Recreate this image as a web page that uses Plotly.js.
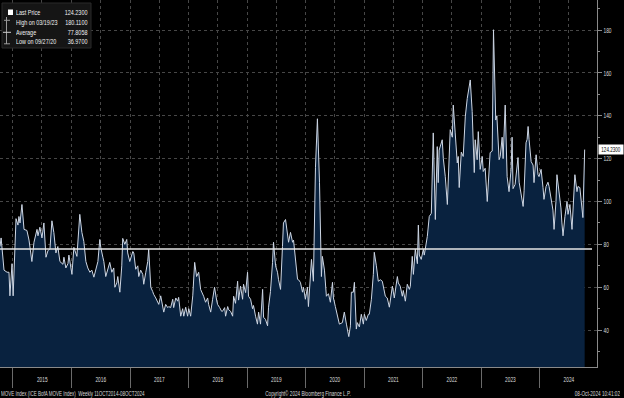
<!DOCTYPE html>
<html>
<head>
<meta charset="utf-8">
<script src="https://cdn.plot.ly/plotly-3.0.1.min.js"></script>
<style>html,body{margin:0;padding:0;background:#000;}#chart{width:624px;height:398px;}</style>
</head>
<body>
<div id="chart"></div>
<script>
// MOVE Index weekly values
const dates = [
"2014-10-12","2014-10-19","2014-11-06","2014-11-25","2014-12-07","2014-12-13","2014-12-26",
"2015-01-02","2015-01-20","2015-02-01","2015-02-07","2015-02-14","2015-02-26","2015-03-11","2015-03-29","2015-04-11","2015-04-29","2015-05-12","2015-05-31","2015-06-06","2015-06-18","2015-07-01","2015-07-13","2015-07-26","2015-08-07","2015-08-20","2015-09-01","2015-09-13","2015-09-26","2015-10-08","2015-10-21","2015-11-09","2015-11-15","2015-11-27","2015-12-10","2015-12-16",
"2016-01-04","2016-01-16","2016-02-04","2016-02-22","2016-03-06","2016-03-18","2016-03-31","2016-04-12","2016-04-25","2016-05-07","2016-05-20","2016-06-01","2016-06-14","2016-06-26","2016-07-02","2016-07-15","2016-07-21","2016-08-02","2016-08-15","2016-08-27","2016-09-09","2016-09-21","2016-09-28","2016-10-10","2016-10-16","2016-10-29","2016-11-10","2016-11-16","2016-11-29","2016-12-11","2016-12-17","2016-12-30",
"2017-01-18","2017-01-24","2017-02-05","2017-02-18","2017-02-24","2017-03-08","2017-03-21","2017-03-27","2017-04-09","2017-04-21","2017-04-27","2017-05-10","2017-05-22","2017-05-28","2017-06-10","2017-06-22","2017-06-29","2017-07-11","2017-07-24","2017-07-30","2017-08-11","2017-08-24","2017-08-30","2017-09-11","2017-09-24","2017-09-30","2017-10-13","2017-10-25","2017-10-31","2017-11-13","2017-11-25","2017-12-02","2017-12-14","2017-12-26",
"2018-01-02","2018-01-14","2018-01-27","2018-02-08","2018-02-20","2018-03-05","2018-03-17","2018-03-30","2018-04-05","2018-04-17","2018-04-30","2018-05-06","2018-05-19","2018-05-31","2018-06-12","2018-06-25","2018-07-01","2018-07-14","2018-07-26","2018-08-01","2018-08-14","2018-08-20","2018-09-02","2018-09-08","2018-09-20","2018-10-03","2018-10-09","2018-10-21","2018-11-03","2018-11-09","2018-11-21","2018-12-04","2018-12-10","2018-12-23",
"2019-01-04","2019-01-10","2019-01-23","2019-02-04","2019-02-10","2019-02-23","2019-03-07","2019-03-14","2019-03-26","2019-04-08","2019-04-14","2019-04-26","2019-05-09","2019-05-15","2019-05-27","2019-06-09","2019-06-15","2019-06-28","2019-07-10","2019-07-16","2019-07-29","2019-08-10","2019-08-16","2019-08-29","2019-09-10","2019-09-17","2019-09-29","2019-10-12","2019-10-18","2019-10-30","2019-11-12","2019-11-18","2019-11-30","2019-12-13","2019-12-19","2019-12-31",
"2020-01-13","2020-01-19","2020-02-07","2020-02-19","2020-03-03","2020-03-15","2020-03-28","2020-04-09","2020-04-15","2020-04-28","2020-05-10","2020-05-23","2020-06-04","2020-06-17","2020-06-23","2020-07-05","2020-07-18","2020-07-30","2020-08-18","2020-08-30","2020-09-12","2020-09-27","2020-10-07","2020-10-13","2020-10-25","2020-11-01","2020-11-13","2020-11-19","2020-12-02","2020-12-14","2020-12-27",
"2021-01-02","2021-01-14","2021-01-27","2021-02-02","2021-02-15","2021-02-27","2021-03-05","2021-03-18","2021-03-30","2021-04-12","2021-04-24","2021-05-13","2021-05-25","2021-06-07","2021-06-26","2021-07-08","2021-07-27","2021-08-02","2021-08-14","2021-08-27","2021-09-02","2021-09-15","2021-09-27","2021-10-10","2021-10-16","2021-10-28","2021-11-04","2021-11-16","2021-11-29","2021-12-05","2021-12-11","2021-12-23",
"2022-01-05","2022-01-11","2022-01-30","2022-02-11","2022-02-24","2022-03-08","2022-03-21","2022-04-02","2022-04-08","2022-04-14","2022-05-03","2022-05-10","2022-05-22","2022-06-04","2022-06-22","2022-07-05","2022-07-11","2022-07-23","2022-08-05","2022-08-11","2022-08-17","2022-08-30","2022-09-11","2022-09-24","2022-10-06","2022-10-25","2022-11-06","2022-11-19","2022-11-25","2022-12-07","2022-12-14","2022-12-26",
"2023-01-08","2023-01-14","2023-01-26","2023-02-08","2023-02-14","2023-02-26","2023-03-11","2023-03-19","2023-04-02","2023-04-09","2023-04-23","2023-04-30","2023-05-12","2023-05-18","2023-05-31","2023-06-12","2023-06-24","2023-07-07","2023-07-13","2023-07-19","2023-08-01","2023-08-07","2023-08-19","2023-08-26","2023-09-07","2023-09-20","2023-09-26","2023-10-08","2023-10-15","2023-10-21","2023-10-27","2023-11-09","2023-11-21","2023-11-27","2023-12-10","2023-12-22","2023-12-28",
"2024-01-10","2024-01-22","2024-01-28","2024-02-10","2024-02-22","2024-02-29","2024-03-12","2024-03-24","2024-03-31","2024-04-12","2024-04-18","2024-05-01","2024-05-13","2024-05-19","2024-05-26","2024-06-07","2024-06-20","2024-06-26","2024-07-08","2024-07-21","2024-07-27","2024-08-08","2024-08-21","2024-08-27","2024-09-08","2024-09-21","2024-09-27","2024-10-08"
];
const values = [
79,83,68,67,67,56,71,
56,92,89,93,90,98.6,87,86.5,82,72,81,87,84,88,83,90,74,77,78,91,85.6,76,79,72,70.7,74,69,71,75,
66,78.6,74.4,94,85.6,81.4,72,69,67,68,64.7,68.4,72,82.3,78.6,74,72,65,68,71.6,67,69,60,62,65,57.7,70,82.8,80,82.3,76,72,
76.7,76,68.4,70,65,68,66,61.4,67,72,77.7,60,58,56.7,55,53.5,52,56,50,48.4,52,50.5,51,50.5,54.4,50.5,55,53.5,55.3,46.5,50,46.5,50.7,46.5,
50,46.5,56,71.6,65,67,59,57,55.8,53,55,52,48.4,54.4,60,54,52,50.5,48.8,48.8,50.5,46.5,51,49.5,48.8,46.5,55.8,52.5,62.8,54,60.5,54.4,61.4,57.5,
67,55.8,54.4,50,51.5,46.5,42.8,48.4,42.8,59,46,45,42,50.7,58,71.6,81,70,67,63.7,59,79,90,91.6,86,81,85.6,81,82,74.4,63.7,63.5,62.3,57.7,60,54.4,
60,51,73,62.8,116,138.6,109,65,74.4,68,55.8,57,53,62.3,55,51,47.4,42.8,43.5,48.4,42.8,36.97,42,57.7,57.7,62.3,40.5,43.5,41.5,47.4,42.8,
47.4,44.5,47.4,47.4,54.4,66,76.3,70,62.8,63.5,62.8,55.8,55,50.7,60.5,55,65,62,60.5,55.8,58.5,53.5,61.4,59,60.5,74.4,66,77.7,71,89,75,73,
77.7,75,83.7,93,94.5,132,91.6,125.6,108.8,124,128.8,120,111.6,98.6,133.5,130,145,132,118,121,106.5,123,121,139.5,148,156.7,142,113.5,128.8,119.5,132.6,115,
121,114,115.5,100,109,122.8,123.5,180.11,138,140,119.5,121,130,120,145,111.6,104.6,115,130,106,108,113,120.5,109,103,97.7,105,127.4,129,135,129,118.6,117,108.8,121.8,112.5,111.6,
115,106.5,101,107,109,107,102.3,96,87,100,112.5,105,97,90,84,93,100,94,98.6,87,97,112.5,104.6,107,106.5,94,92.5,124.23
];
const lastPrice = 124.23;
const highValue = 180.11;
const highDate = "03/19/23";
const averageValue = 77.8058;
const lowValue = 36.97;
const lowDate = "09/27/20";
const legendLabels = ["Last Price", "High on " + highDate, "Average", "Low on " + lowDate];
const legendValues = [lastPrice.toFixed(4), highValue.toFixed(4), averageValue.toFixed(4), lowValue.toFixed(4)];
const yTicks = [40, 60, 80, 100, 120, 140, 160, 180];
const footerLeft = "MOVE Index (ICE BofA MOVE Index)\u00a0\u00a0Weekly 11OCT2014-08OCT2024";
const footerCenter = "Copyright\u00a9 2024 Bloomberg Finance L.P.";
const footerRight = "08-Oct-2024 10:41:02";

const FONT = "Liberation Sans, Arial, sans-serif";
const W = 624, H = 398, ML = 0, MR = 27, MT = 0, MB = 31;
const PW = W - ML - MR, PH = H - MT - MB;
const px = x => (x - ML) / PW;          // pixel -> paper x
const py = y => (H - MB - y) / PH;      // pixel -> paper y

const trace = {
  x: dates, y: values, type: "scatter", mode: "lines",
  line: {color: "#cdd6e4", width: 1},
  fill: "tozeroy", fillcolor: "#09223f",
  hoverinfo: "skip"
};

const annotations = [];
const squeeze = [];   // horizontal condensing factor per annotation (narrow terminal font look)
function addText(opt, c) { annotations.push(Object.assign({showarrow: false, borderpad: 0}, opt)); squeeze.push(c); }

const rowsY = [12.3, 22.3, 32.3, 41.8];
legendLabels.forEach((t, i) => {
  addText({xref: "paper", yref: "paper", x: px(15), y: py(rowsY[i]), xanchor: "left", yanchor: "middle",
    width: 47, align: "left", text: t, font: {family: FONT, size: 8, color: "#f0f0f0"}}, 0.68);
  addText({xref: "paper", yref: "paper", x: px(89), y: py(rowsY[i]), xanchor: "right", yanchor: "middle",
    width: 25, align: "right", text: legendValues[i], font: {family: FONT, size: 8, color: "#f0f0f0"}}, 0.68);
});
addText({xref: "paper", yref: "y", x: px(597.5), y: lastPrice, xanchor: "left", yanchor: "middle",
  width: 24, height: 9, align: "center", bgcolor: "#ffffff",
  text: lastPrice.toFixed(4), font: {family: FONT, size: 6.5, color: "#000"}}, 0.7);
addText({xref: "paper", yref: "paper", x: px(0), y: py(393), xanchor: "left", yanchor: "middle",
  width: 150, align: "left", text: footerLeft, font: {family: FONT, size: 7.5, color: "#d8d8d8"}}, 0.6);
addText({xref: "paper", yref: "paper", x: px(308), y: py(393), xanchor: "center", yanchor: "middle",
  width: 92, align: "center", text: footerCenter, font: {family: FONT, size: 7.5, color: "#d8d8d8"}}, 0.62);
addText({xref: "paper", yref: "paper", x: px(621), y: py(393), xanchor: "right", yanchor: "middle",
  width: 58, align: "right", text: footerRight, font: {family: FONT, size: 7.5, color: "#d8d8d8"}}, 0.62);

const shapes = [
  // average line
  {type: "line", xref: "paper", yref: "y", x0: 0, x1: px(592), y0: averageValue, y1: averageValue,
   line: {color: "#e6e6e6", width: 1.5}, layer: "above"},
  // legend box
  {type: "rect", xref: "paper", yref: "paper", x0: px(2), x1: px(91), y0: py(48), y1: py(3),
   fillcolor: "#151515", line: {color: "#2b2b2b", width: 1}, layer: "above"},
  {type: "rect", xref: "paper", yref: "paper", x0: px(8), x1: px(13), y0: py(15), y1: py(9.5),
   fillcolor: "#ffffff", line: {width: 0}, layer: "above"},
  {type: "line", xref: "paper", yref: "paper", x0: px(6.5), x1: px(6.5), y0: py(44), y1: py(17),
   line: {color: "#9a9a9a", width: 1}, layer: "above"},
  {type: "line", xref: "paper", yref: "paper", x0: px(4), x1: px(10), y0: py(rowsY[1] - 2), y1: py(rowsY[1] - 2),
   line: {color: "#9a9a9a", width: 1}, layer: "above"},
  {type: "line", xref: "paper", yref: "paper", x0: px(3), x1: px(11), y0: py(rowsY[2]), y1: py(rowsY[2]),
   line: {color: "#cfcfcf", width: 1}, layer: "above"},
  {type: "line", xref: "paper", yref: "paper", x0: px(4), x1: px(10), y0: py(rowsY[3] + 2), y1: py(rowsY[3] + 2),
   line: {color: "#9a9a9a", width: 1}, layer: "above"}
];

const layout = {
  width: W, height: H,
  paper_bgcolor: "#000", plot_bgcolor: "#000",
  margin: {l: ML, r: MR, t: MT, b: MB, pad: 0},
  showlegend: false,
  font: {family: FONT, color: "#d0d0d0", size: 8},
  xaxis: {
    type: "date", range: ["2014-10-12", "2024-12-24"],
    tick0: "2015-01-01", dtick: "M12", tickformat: "%Y", ticklabelmode: "period",
    ticks: "outside", ticklen: 20, tickcolor: "#6a6a6a", tickwidth: 1,
    ticklabelstandoff: -15,
    showgrid: true, gridcolor: "#474747", griddash: "dot", gridwidth: 1,
    minor: {dtick: "M6", showgrid: true, gridcolor: "#474747", griddash: "dot", gridwidth: 1},
    showline: true, linecolor: "#8a8a8a", linewidth: 1,
    zeroline: false, tickfont: {family: FONT, size: 7.5, color: "#dcdcdc"}
  },
  yaxis: {
    side: "right", range: [22.8, 194], tickvals: yTicks,
    ticks: "outside", ticklen: 4, tickcolor: "#8a8a8a",
    showgrid: true, gridcolor: "#474747", griddash: "dot", gridwidth: 1,
    minor: {tick0: 30, dtick: 10, ticks: "outside", ticklen: 2, tickcolor: "#8a8a8a", showgrid: false},
    showline: true, linecolor: "#8a8a8a", linewidth: 1,
    zeroline: false, tickfont: {family: FONT, size: 7.5, color: "#dcdcdc"}
  },
  annotations: annotations,
  shapes: shapes
};

// give texts the narrow look of the terminal font by condensing glyphs horizontally
function condense(el, c) {
  const w = el.getComputedTextLength();
  if (!w) return;
  el.setAttribute("textLength", (w * c).toFixed(2));
  el.setAttribute("lengthAdjust", "spacingAndGlyphs");
}

const gd = document.getElementById("chart");
Plotly.newPlot(gd, [trace], layout, {staticPlot: true, displayModeBar: false}).then(() => {
  gd.querySelectorAll("g.annotation").forEach(g => {
    const i = +g.getAttribute("data-index");
    const t = g.querySelector("text.annotation-text");
    if (t && squeeze[i]) condense(t, squeeze[i]);
  });
  gd.querySelectorAll(".xtick text, .ytick text").forEach(t => condense(t, 0.64));
});
</script>
</body>
</html>
